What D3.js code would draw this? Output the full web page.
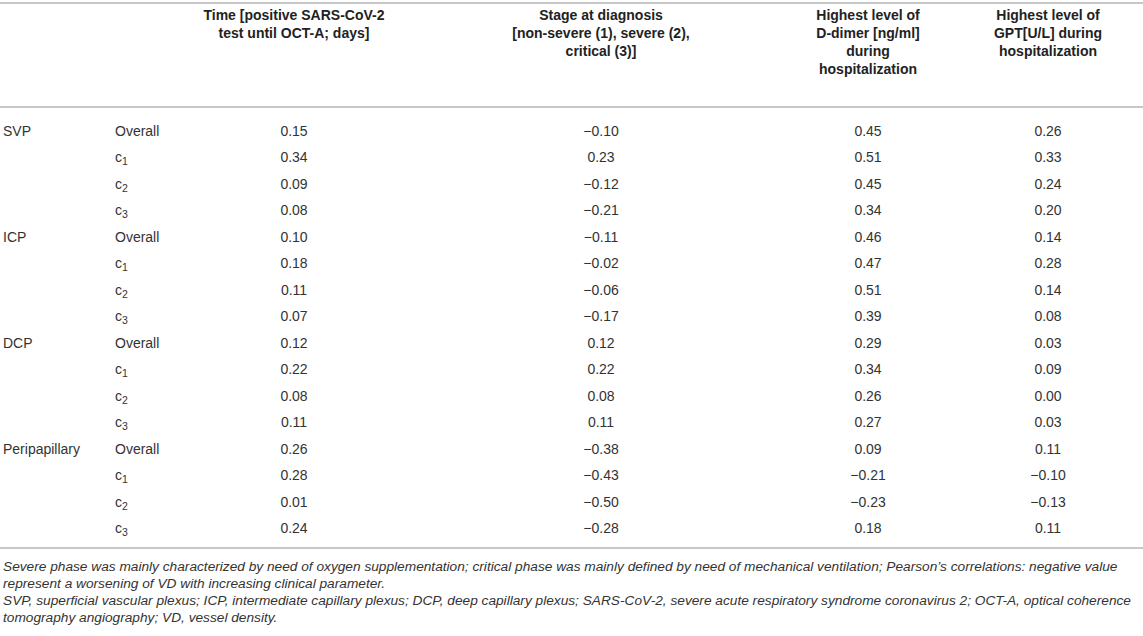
<!DOCTYPE html>
<html>
<head>
<meta charset="utf-8">
<script src="https://cdn.jsdelivr.net/npm/d3@7"></script>
<style>
  html, body { margin: 0; padding: 0; background: #fff; }
  svg { display: block; font-family: "Liberation Sans", Arial, sans-serif; }
</style>
</head>
<body>
<div id="table"></div>
<script>
// Table content
const groups = ["SVP", "ICP", "DCP", "Peripapillary"];
const subgroups = ["Overall", "c1", "c2", "c3"];

const headers = [
  ["Time [positive SARS-CoV-2", "test until OCT-A; days]"],
  ["Stage at diagnosis", "[non-severe (1), severe (2),", "critical (3)]"],
  ["Highest level of", "D-dimer [ng/ml]", "during", "hospitalization"],
  ["Highest level of", "GPT[U/L] during", "hospitalization"]
];

const timeValues   = [0.15, 0.34, 0.09, 0.08, 0.10, 0.18, 0.11, 0.07, 0.12, 0.22, 0.08, 0.11, 0.26, 0.28, 0.01, 0.24];
const stageValues  = [-0.10, 0.23, -0.12, -0.21, -0.11, -0.02, -0.06, -0.17, 0.12, 0.22, 0.08, 0.11, -0.38, -0.43, -0.50, -0.28];
const dDimerValues = [0.45, 0.51, 0.45, 0.34, 0.46, 0.47, 0.51, 0.39, 0.29, 0.34, 0.26, 0.27, 0.09, -0.21, -0.23, 0.18];
const gptValues    = [0.26, 0.33, 0.24, 0.20, 0.14, 0.28, 0.14, 0.08, 0.03, 0.09, 0.00, 0.03, 0.11, -0.10, -0.13, 0.11];

const footnotes = [
  "Severe phase was mainly characterized by need of oxygen supplementation; critical phase was mainly defined by need of mechanical ventilation; Pearson\u2019s correlations: negative value",
  "represent a worsening of VD with increasing clinical parameter.",
  "SVP, superficial vascular plexus; ICP, intermediate capillary plexus; DCP, deep capillary plexus; SARS-CoV-2, severe acute respiratory syndrome coronavirus 2; OCT-A, optical coherence",
  "tomography angiography; VD, vessel density."
];

const valueColumns = [timeValues, stageValues, dDimerValues, gptValues];

// Build rows
const rows = [];
groups.forEach((g, gi) => {
  subgroups.forEach((s, si) => {
    const idx = gi * subgroups.length + si;
    rows.push({
      group: si === 0 ? g : "",
      sub: s,
      values: valueColumns.map(col => col[idx])
    });
  });
});

const width = 1143, height = 636;

const svg = d3.select("#table")
  .append("svg")
  .attr("width", width)
  .attr("height", height);

const colX = d3.scaleOrdinal()
  .domain(d3.range(headers.length))
  .range([294, 601, 868, 1048]);

const rowY = d3.scaleBand()
  .domain(d3.range(rows.length))
  .range([117.5, 541.5]);

const fmt = v => (v < 0 ? "\u2212" : "") + d3.format(".2f")(Math.abs(v));

// Rules
const rules = [3, 107, 548];
svg.selectAll("line.rule")
  .data(rules)
  .enter()
  .append("line")
  .attr("class", "rule")
  .attr("x1", 0)
  .attr("x2", width)
  .attr("y1", d => d)
  .attr("y2", d => d)
  .attr("stroke", "#c8c8c8")
  .attr("stroke-width", 2);

// Header
headers.forEach((lines, ci) => {
  svg.append("text")
    .attr("x", colX(ci))
    .attr("y", 15)
    .attr("text-anchor", "middle")
    .style("font-size", "14px")
    .style("font-weight", "bold")
    .style("fill", "#222")
    .selectAll("tspan")
    .data(lines)
    .enter()
    .append("tspan")
    .attr("x", colX(ci))
    .attr("dy", (d, i) => i === 0 ? "0.35em" : "18px")
    .text(d => d);
});

// Body
const rowG = svg.selectAll("g.row")
  .data(rows)
  .enter()
  .append("g")
  .attr("class", "row")
  .attr("transform", (d, i) => `translate(0,${rowY(i) + rowY.bandwidth() / 2})`)
  .style("font-size", "14px")
  .style("fill", "#333");

rowG.append("text")
  .attr("x", 3)
  .attr("dy", "0.35em")
  .text(d => d.group);

rowG.append("text")
  .attr("x", 115)
  .attr("dy", "0.35em")
  .each(function(d) {
    const t = d3.select(this);
    if (d.sub === "Overall") {
      t.text(d.sub);
    } else {
      t.append("tspan").text(d.sub[0]);
      t.append("tspan")
        .attr("dy", "0.3em")
        .style("font-size", "10.5px")
        .text(d.sub.slice(1));
    }
  });

rowG.selectAll("text.val")
  .data(d => d.values)
  .enter()
  .append("text")
  .attr("class", "val")
  .attr("x", (d, i) => colX(i))
  .attr("dy", "0.35em")
  .attr("text-anchor", "middle")
  .text(d => fmt(d));

// Footnotes
svg.append("text")
  .attr("x", 3)
  .attr("y", 566)
  .style("font-size", "13.7px")
  .style("font-style", "italic")
  .style("fill", "#333")
  .selectAll("tspan")
  .data(footnotes)
  .enter()
  .append("tspan")
  .attr("x", 3)
  .attr("dy", (d, i) => i === 0 ? "0.35em" : "17px")
  .text(d => d);
</script>
</body>
</html>
